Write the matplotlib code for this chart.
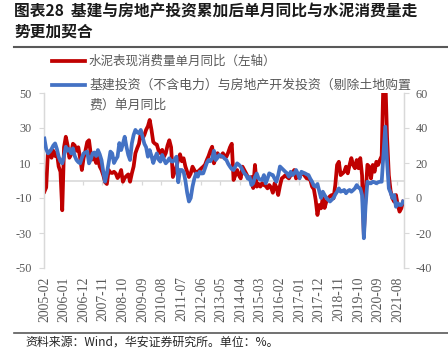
"""
Cement consumption vs infrastructure + real estate investment, single-month YoY
"""

import matplotlib
matplotlib.use("Agg")
import matplotlib.pyplot as plt
from matplotlib.lines import Line2D

plt.rcParams['font.family'] = ['Noto Sans CJK SC', 'DejaVu Sans']

# monthly, 2005-02 .. 2021-11
start_year, start_month = 2005, 2

# 水泥表现消费量单月同比 (left axis, %)
cement = [
    -6.4, -4, 16.5, 15, 13, 17, 14, 16, 8, 5,
    -17, 19, 25, 20, 13, 15, 21, 20, 17, 19,
    13, 6, 13, 17, 22, 23, 15, 12, 13, 10,
    13, 8, 6, 3, -1, -2, 6, 4.5, 4.3, 5,
    4, 1.4, 3, 6, -0.7, 1.5, 2.6, 3.5, -0.7, 4,
    8, 15.6, 18.5, 21, 27, 24, 26, 29, 31, 34.6,
    29, 22, 21, 20.5, 17, 15.6, 17.5, 13.6, 15.6, 20,
    23, 19, 2, 5, 8, 12, 15, 11, 12.7, 8,
    5, 2, 4, 7.9, 6, 4.1, 5, 6, 7, 7.9,
    9, 11.7, 14, 17, 19.3, 9.8, 13, 15.6, 14, 13.6,
    15.6, 14, 13.6, 16, 19, 21, 0.3, 3, 6, 3,
    1.2, 7.9, 6, 4.1, 2, 1.2, 2, -4.3, 8.9, -3.5,
    -2, -3.5, -1.5, -2.6, -3, -4.5, -2.6, -4, -7, -1.6,
    -4, -8.3, -3, 1.2, 2, 3, 2, 1.2, 3, 4.1,
    6, 1.2, 2.5, 3.1, 3.5, 4.1, 2.5, 1.2, 1, 0.3,
    -3.5, -5, -11, -19.7, -14, -15.9, -10, -15.7, -12, -10.2,
    -9, -8.3, -10.2, -2.6, 8.9, 10.7, 3.1, 4, 5, 7.9,
    4.1, 8.9, 12.8, 8.9, 7, 11.7, 7, 12.8, 3, -31,
    -8, 9, 7.9, 1.2, 8.9, 5, 10.7, 8.9, 11.7, 14,
    60, 60, 25, 3, -6, -10.2, -12.1, -8.3, -14, -17.8,
    -15.9, -12.1,
]

# 基建投资(不含电力)与房地产开发投资单月同比 (right axis, %)
invest = [
    34, 28, 25.5, 26.5, 28, 30, 31.2, 28, 23.6, 21,
    19.8, 24, 29.3, 27, 28, 25.5, 28.4, 24, 21.7, 20.5,
    19.8, 23, 25.5, 26, 26.5, 19.8, 22, 25.5, 26, 24,
    27.4, 25, 21.7, 15, 9.3, 14.1, 20, 26.5, 25.5, 20,
    22, 23.6, 31.4, 27.4, 31, 35, 29.3, 24.6, 21.7, 31.2,
    36, 38.9, 37.5, 37, 38.9, 35, 31, 29, 23.6, 27.4,
    24, 20, 23, 25.5, 22, 20.8, 24.6, 22, 19.8, 21,
    22.7, 21, 20.8, 22, 23.6, 9, 16, 16, 15, 10,
    3, -2, 0, 6.5, 11, 14, 12.2, 15, 14, 14.1,
    17, 20, 21.7, 21, 22.7, 27, 21.7, 23, 24.6, 24,
    23.6, 22.5, 21.7, 19.5, 17.9, 16.5, 16, 18, 19.8, 19,
    17.9, 16, 14.1, 13.1, 11, 12, 7.4, 8.4, 12, 14,
    11.2, 10.5, 10.3, 13.1, 8.4, 11, 14.1, 13.5, 13.1, 11,
    9.3, 13, 18, 17, 16, 15, 14.1, 12.2, 15, 13.1,
    14, 16, 14, 11.2, 15, 14.5, 14.1, 13.5, 13.1, 11,
    9.3, 7, 6.5, 8, 4, 0, 3.6, 1.7, 0, -1,
    -2, -1, 0, 2, 3.6, 5.5, 3.6, 4, 4.6, 2.7,
    4, 4.6, 3.6, 4.5, 5.5, 7.4, 6, 5.5, 1.7, -23,
    -4, 9.3, 8.4, 8.4, 9.3, 9, 8.4, 9, 9.3, 9.3,
    24.6, 40.8, 20.8, 5.5, 3, 0, 1.7, -5, -3, -4,
    -4, -2,
]

left_ticks = [-50, -30, -10, 10, 30, 50]
right_ticks = [-40, -20, 0, 20, 40, 60]

title_lines = ['图表28  基建与房地产投资累加后单月同比与水泥消费量走', '势更加契合']
legend_labels = ['水泥表现消费量单月同比（左轴）',
                 '基建投资（不含电力）与房地产开发投资（剔除土地购置',
                 '费）单月同比']
source = '资料来源：Wind，华安证券研究所。单位：%。'

RED = '#C00000'
BLUE = '#4472C4'
GRID = '#D9D9D9'
LABEL = '#595959'
W, H = 448, 352


def month_labels(n):
    out = []
    for i in range(n):
        m = start_month - 1 + i
        out.append(f"{start_year + m // 12}-{m % 12 + 1:02d}")
    return out


def fx(px):
    return px / W


def fy(py):
    return 1 - py / H


n = len(cement)
xs = list(range(n))
labels = month_labels(n)

fig = plt.figure(figsize=(W / 100, H / 100), dpi=100, facecolor='white')
ax = fig.add_axes([fx(43.5), fy(268), fx(404) - fx(43.5), fy(93) - fy(268)])
ax2 = ax.twinx()

ax.plot(xs, cement, color=RED, lw=2.7, solid_joinstyle='round', zorder=3)
ax2.plot(xs, invest, color=BLUE, lw=2.7, solid_joinstyle='round', zorder=3)

# category axis crosses at 0 on the left scale
ax.axhline(0, color=GRID, lw=1.2, zorder=1)
tick_pos = [k - 0.5 for k in range(0, n, 11)]
ax.vlines(tick_pos, -2.4, 0, color=GRID, lw=0.9, zorder=1)

ax.set_xlim(-0.5, n - 0.5)
ax.set_ylim(-50, 50)
ax2.set_ylim(-40, 60)

serif = 'Liberation Serif'
ax.set_yticks(left_ticks)
ax.set_yticklabels([str(v) for v in left_ticks], family=serif, fontsize=8.8, color=LABEL)
ax2.set_yticks(right_ticks)
ax2.set_yticklabels([str(v) for v in right_ticks], family=serif, fontsize=8.8, color=LABEL)
ax.tick_params(axis='y', length=3.5, width=0.8, color=GRID, pad=5)
ax2.tick_params(axis='y', length=3.5, width=0.8, color=GRID, pad=5)

ax.set_xticks(xs[::11])
ax.set_xticklabels(labels[::11], rotation=90, family=serif, fontsize=9.8, color=LABEL)
ax.tick_params(axis='x', length=0, pad=6)

for a in (ax, ax2):
    a.spines['top'].set_visible(False)
    a.spines['bottom'].set_visible(False)
    a.spines['left'].set_color(GRID)
    a.spines['right'].set_color(GRID)
    a.spines['left'].set_linewidth(0.9)
    a.spines['right'].set_linewidth(0.9)
    a.patch.set_visible(False)

# title and rules
fig.text(fx(14), fy(11), title_lines[0], fontsize=11.3, fontweight='bold',
         color='#1a1a1a', va='center', ha='left')
fig.text(fx(14), fy(32), title_lines[1], fontsize=11.3, fontweight='bold',
         color='#1a1a1a', va='center', ha='left')
fig.add_artist(Line2D([fx(14), 1], [fy(47), fy(47)], color='#595959', lw=1.5))
fig.add_artist(Line2D([fx(14), 1], [fy(333), fy(333)], color='#595959', lw=1.2))

# legend
fig.add_artist(Line2D([fx(52), fx(85)], [fy(61), fy(61)], color=RED, lw=2.7))
fig.text(fx(89), fy(61), legend_labels[0], fontsize=9, color=LABEL, va='center')
fig.add_artist(Line2D([fx(52), fx(85)], [fy(85), fy(85)], color=BLUE, lw=2.7))
fig.text(fx(89), fy(85), legend_labels[1], fontsize=9.3, color=LABEL, va='center')
fig.text(fx(89), fy(105), legend_labels[2], fontsize=9.3, color=LABEL, va='center')

fig.text(fx(25), fy(342), source, fontsize=8.6, color='#262626', va='center')

fig.savefig('out.png', dpi=100, facecolor='white')
